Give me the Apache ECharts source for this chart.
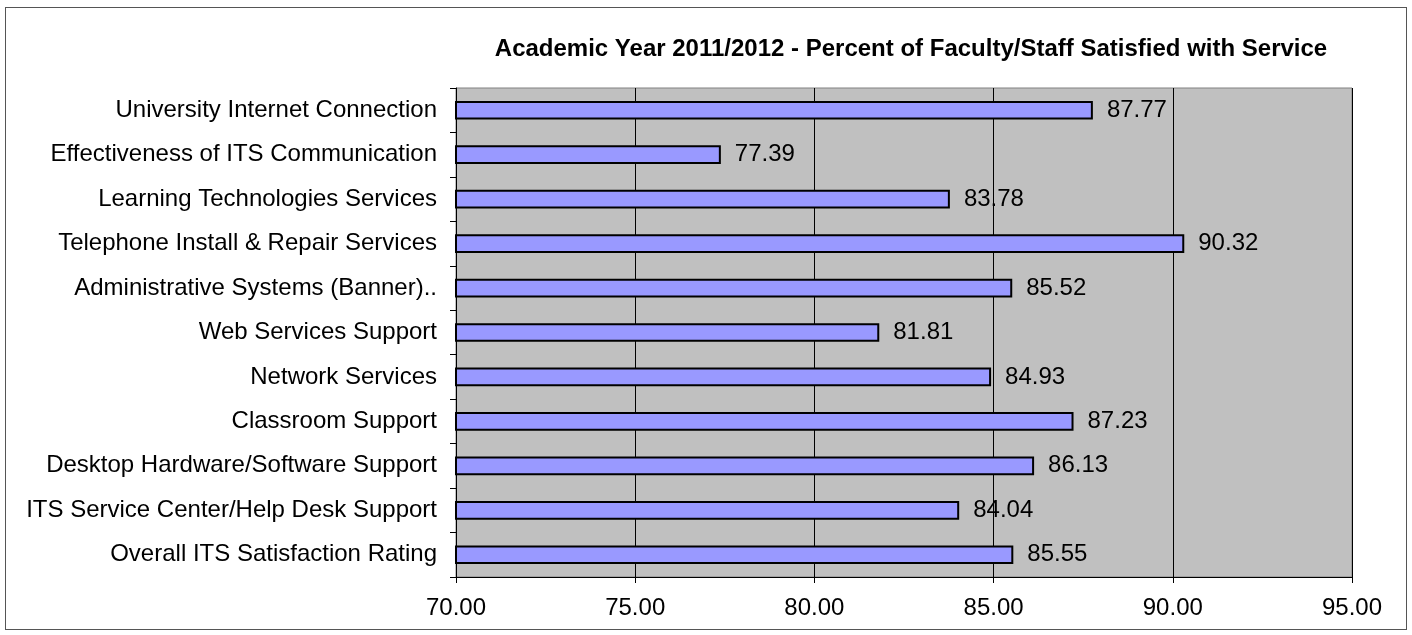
<!DOCTYPE html>
<html><head><meta charset="utf-8">
<script src="https://cdn.jsdelivr.net/npm/echarts@6/dist/echarts.min.js"></script>
<style>html,body{margin:0;padding:0;background:#fff}#c{width:1412px;height:635px}
#frame{position:absolute;left:5px;top:7px;width:1402px;height:623px;border:1px solid #555;box-sizing:border-box;pointer-events:none}</style>
</head><body><div id="c"></div><div id="frame"></div>
<script>
const categories = [
  "Overall ITS Satisfaction Rating",
  "ITS Service Center/Help Desk Support",
  "Desktop Hardware/Software Support",
  "Classroom Support",
  "Network Services",
  "Web Services Support",
  "Administrative Systems (Banner)..",
  "Telephone Install & Repair Services",
  "Learning Technologies Services",
  "Effectiveness of ITS Communication",
  "University Internet Connection"
];
const values = [85.55, 84.04, 86.13, 87.23, 84.93, 81.81, 85.52, 90.32, 83.78, 77.39, 87.77];
const titleText = "Academic Year 2011/2012 - Percent of Faculty/Staff Satisfied with Service";

const chart = echarts.init(document.getElementById('c'), null, {renderer: 'canvas'});
const F = "Liberation Sans, Arial, sans-serif";
chart.setOption({
  animation: false,
  backgroundColor: '#fff',
  title: {text: titleText, left: 906, textAlign: 'center', top: 32,
    textStyle: {fontFamily: F, fontSize: 24, fontWeight: 'bold', color: '#000'}},
  grid: {left: 456, right: 60, top: 88, bottom: 58, show: true, backgroundColor: '#c0c0c0', borderColor: '#808080', borderWidth: 1},
  xAxis: {type: 'value', min: 70, max: 95, interval: 5,
    axisLine: {show: true, lineStyle: {color: '#000'}},
    axisTick: {show: true, length: 6, lineStyle: {color: '#000'}},
    splitLine: {show: true, lineStyle: {color: '#000', width: 1}},
    axisLabel: {fontFamily: F, fontSize: 24, color: '#000', margin: 19, formatter: v => v.toFixed(2)}},
  yAxis: {type: 'category', data: categories,
    axisLine: {show: true, lineStyle: {color: '#000'}},
    axisTick: {show: true, length: 6, lineStyle: {color: '#000'}},
    axisLabel: {fontFamily: F, fontSize: 24, color: '#000', margin: 19}},
  series: [{type: 'bar', data: values, barWidth: '42%',
    itemStyle: {color: '#9999ff', borderColor: '#000', borderWidth: 2},
    label: {show: true, position: 'right', distance: 14, fontFamily: F, fontSize: 24, color: '#000', formatter: p => p.value.toFixed(2)}}]
});
</script></body></html>
